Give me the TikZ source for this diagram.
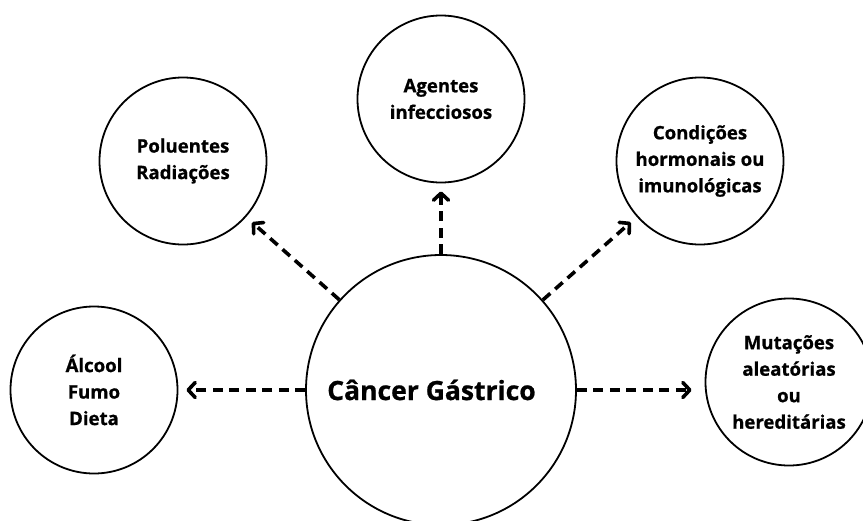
\documentclass[tikz,border=0pt]{standalone}
\usepackage{fontspec}
\setmainfont{Open Sans}[BoldFeatures={FakeBold=0.8}]
\usetikzlibrary{arrows.meta,positioning}

\begin{document}
\begin{tikzpicture}[x=1pt,y=1pt,on grid,
  main node/.style={circle,draw,line width=1.8pt,minimum size=270pt,inner sep=0pt,font=\fontsize{26.5}{32}\selectfont\bfseries},
  cause node/.style={circle,draw,line width=1.8pt,minimum size=167pt,inner sep=0pt,align=center,font=\fontsize{18.6}{26.5}\selectfont\bfseries},
  link/.style={line width=3.6pt,dash pattern=on 10pt off 6.5pt,shorten >=8pt,
    -{Straight Barb[length=7pt,width=15pt,line join=round,line cap=round]}}]
\clip (0,0) rectangle (863,-520);
\node[main node] (main) at (441,-390) {\hspace*{-19pt}Câncer Gástrico};
\node[cause node] (pol) [above left=229pt and 258pt of main] {Poluentes\\Radiações};
\node[cause node] (inf) [above=291pt of main] {Agentes\\infecciosos};
\node[cause node] (hor) [above right=229pt and 259pt of main] {Condições\\hormonais ou\\imunológicas};
\node[cause node] (alc) [left=347pt of main] {Álcool\\Fumo\\Dieta};
\node[cause node] (mut) [above right=8pt and 348pt of main] {Mutações\\aleatórias\\ou\\hereditárias};
\draw[link] (main) -- (pol);
\draw[link] (main) -- (inf);
\draw[link] (main) -- (hor);
\draw[link] (main) -- (alc);
\draw[link,shorten >=13pt] (main.east) -- (mut.west |- main.east);
\end{tikzpicture}
\end{document}
